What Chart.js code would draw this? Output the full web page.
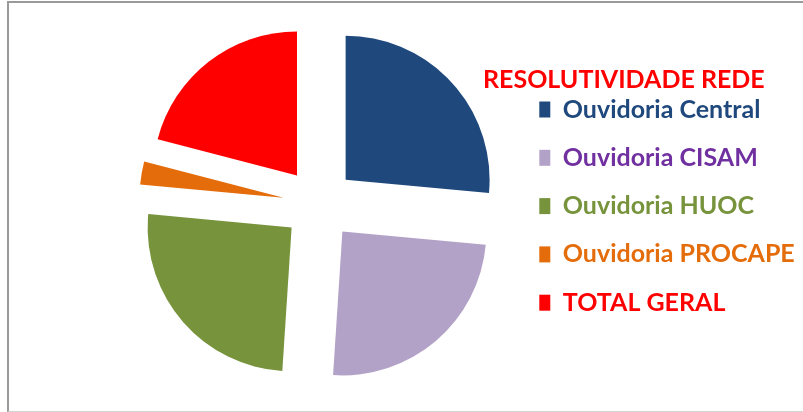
<!DOCTYPE html>
<html>
<head>
<meta charset="utf-8">
<script src="https://cdn.jsdelivr.net/npm/chart.js@4.4.0/dist/chart.umd.min.js"></script>
<style>
	html, body { margin: 0; padding: 0; background: #fff; }
	#wrap { position: relative; width: 803px; height: 412px; overflow: hidden; }
	#frame {
		position: absolute; left: 7px; top: 1px; right: -4px; bottom: 0;
		border-top: 2px solid #9a9a9a; border-left: 2px solid #9a9a9a; border-bottom: 1px solid #d4d4d4;
	}
	canvas { position: absolute; left: 0; top: 0; }
</style>
</head>
<body>
<div id="wrap">
	<div id="frame"></div>
	<canvas id="myChart" width="803" height="412"></canvas>
</div>
<script>
// dados (ângulos das fatias)
const categories = ['Ouvidoria Central', 'Ouvidoria CISAM', 'Ouvidoria HUOC', 'Ouvidoria PROCAPE', 'TOTAL GERAL'];
const resolutividade = [95.2, 88.3, 91.5, 9.3, 75.3];
const sliceColors = ['#1F497D', '#B3A2C7', '#77933C', '#E46C0A', '#FF0000'];
const labelColors = ['#1F497D', '#7030A0', '#77933C', '#E46C0A', '#FF0000'];
const legendHeading = 'RESOLUTIVIDADE REDE';

const fontFamily = 'Lato, "Open Sans", sans-serif';

// fatia "explodida": desloca a fatia inteira pelo offset, sem aumentar o raio
class ExplodedArc extends Chart.ArcElement {
	static id = 'explodedArc';

	draw(ctx) {
		const { x, y, startAngle, endAngle, outerRadius, options } = this;
		const d = options.offset || 0;
		const mid = (startAngle + endAngle) / 2;
		const cx = x + Math.cos(mid) * d;
		const cy = y + Math.sin(mid) * d;

		ctx.save();
		ctx.fillStyle = options.backgroundColor;
		ctx.beginPath();
		ctx.moveTo(cx, cy);
		ctx.arc(cx, cy, outerRadius, startAngle, endAngle);
		ctx.closePath();
		ctx.fill();
		ctx.restore();
	}
}
Chart.register(ExplodedArc);
Chart.defaults.datasets.pie.dataElementType = 'explodedArc';

// título da legenda (a legenda do Chart.js corta o que sai da caixa dela)
const headingPlugin = {
	id: 'legendHeading',
	afterDraw(chart, args, opts) {
		const legend = chart.legend;
		if (!legend) return;
		const c = chart.ctx;
		c.save();
		c.font = Chart.helpers.toFont(opts.font).string;
		c.fillStyle = opts.color;
		c.textAlign = 'left';
		c.textBaseline = 'middle';
		c.fillText(opts.text, legend.left + opts.dx, legend.top + opts.dy);
		c.restore();
	}
};

window.onload = () => {
	renderPie('myChart');
};

function renderPie(chartId) {
	const ctx = document.getElementById(chartId);
	if (!ctx) return;

	const baseLabels = Chart.overrides.pie.plugins.legend.labels.generateLabels;

	new Chart(ctx, {
		type: 'pie',
		data: {
			labels: categories,
			datasets: [{
				data: resolutividade,
				backgroundColor: sliceColors,
				borderWidth: 0,
				offset: 36
			}]
		},
		plugins: [headingPlugin],
		options: {
			responsive: false,
			animation: false,
			events: [],
			radius: 144,
			layout: {
				padding: { left: 122, right: 9, top: 0, bottom: 4 }
			},
			plugins: {
				tooltip: { enabled: false },
				legendHeading: {
					text: legendHeading,
					color: '#FF0000',
					font: { family: fontFamily, size: 25, weight: 'bold' },
					dx: -33,
					dy: 79.5
				},
				legend: {
					position: 'right',
					align: 'start',
					maxWidth: 278,
					// espaço reservado acima dos itens (o texto do título é desenhado pelo plugin)
					title: {
						display: true,
						text: '',
						font: { size: 10, lineHeight: 1 },
						padding: { top: 63.7, bottom: 0 }
					},
					labels: {
						boxWidth: 11,
						boxHeight: 16,
						padding: 23.3,
						font: { family: fontFamily, size: 25, weight: 'bold' },
						generateLabels: (chart) => {
							const items = baseLabels(chart);
							items.forEach((item, i) => {
								item.fontColor = labelColors[i];
								item.lineWidth = 0;
							});
							return items;
						}
					}
				}
			}
		}
	});
}
</script>
</body>
</html>
